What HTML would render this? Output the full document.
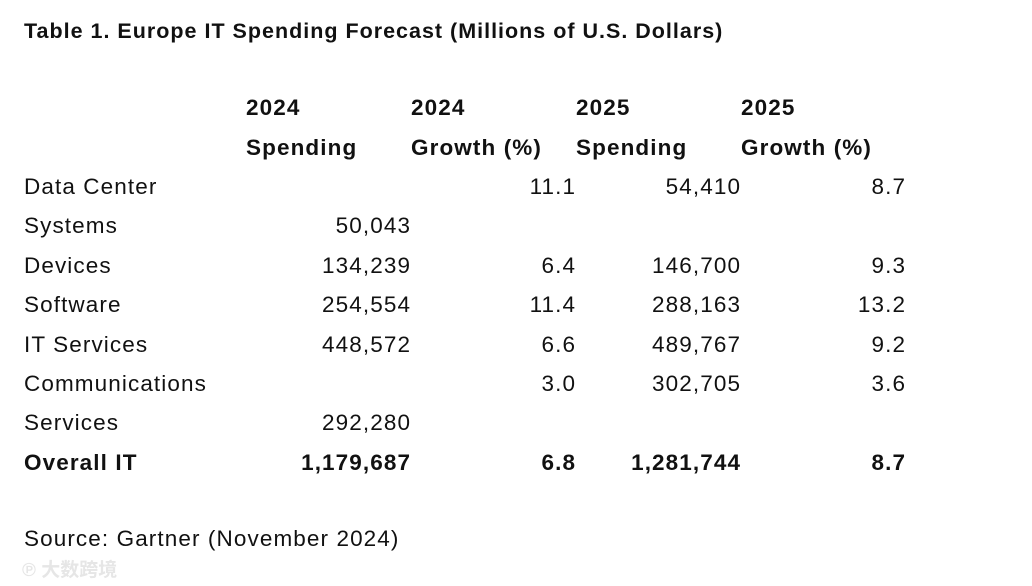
<!DOCTYPE html>
<html><head><meta charset="utf-8"><style>
body{margin:0;width:1032px;height:586px;background:#fff;overflow:hidden;font-family:"Liberation Sans",Arial,sans-serif;color:#111;position:relative}
.t{position:absolute;line-height:30px;height:30px;font-size:22.5px;letter-spacing:1.1px;white-space:nowrap}
.b{font-weight:bold;letter-spacing:1.1px}
.r{text-align:right;width:170px;margin-right:-1.1px}
</style></head><body>
<div class="t b" style="left:24px;top:16px;font-size:21.5px;letter-spacing:1px">Table 1. Europe IT Spending Forecast (Millions of U.S. Dollars)</div>
<div>
<div class="t b" style="left:246px;top:93px">2024</div>
<div class="t b" style="left:411px;top:93px">2024</div>
<div class="t b" style="left:576px;top:93px">2025</div>
<div class="t b" style="left:741px;top:93px">2025</div>
<div class="t b" style="left:246px;top:133px">Spending</div>
<div class="t b" style="left:411px;top:133px">Growth (%)</div>
<div class="t b" style="left:576px;top:133px">Spending</div>
<div class="t b" style="left:741px;top:133px">Growth (%)</div>
</div>
<div id="rows"></div>
<div class="t" style="left:24px;top:524px">Source: Gartner (November 2024)</div>
<div style="position:absolute;left:22px;top:555px;font-family:'Liberation Sans','Noto Sans CJK SC',sans-serif;font-size:19px;color:#e6e6e6;font-weight:bold">℗ 大数跨境</div>
<script>
const labels=["Data Center","Systems","Devices","Software","IT Services","Communications","Services","Overall IT"];
const spend2024=["","50,043","134,239","254,554","448,572","","292,280","1,179,687"];
const growth2024=["11.1","","6.4","11.4","6.6","3.0","","6.8"];
const spend2025=["54,410","","146,700","288,163","489,767","302,705","","1,281,744"];
const growth2025=["8.7","","9.3","13.2","9.2","3.6","","8.7"];
const rows=document.getElementById('rows');
const rights=[410,575,740,905];
labels.forEach((l,i)=>{
  const top=172+i*39.4;
  const bold=i===labels.length-1;
  const mk=(txt,left,right,name)=>{
    const d=document.createElement('div');
    d.className='t'+(bold?' b':'')+(right?' r':'');
    d.style.top=top+'px';
    d.style.left=(right?left-170+1.1:left)+'px';
    d.textContent=txt;
    
    
    rows.appendChild(d);
  };
  mk(l,24,false,'row-label');
  [spend2024,growth2024,spend2025,growth2025].forEach((arr,j)=>{if(arr[i])mk(arr[i],rights[j],true,'cell-value');});
});
</script>
</body></html>
